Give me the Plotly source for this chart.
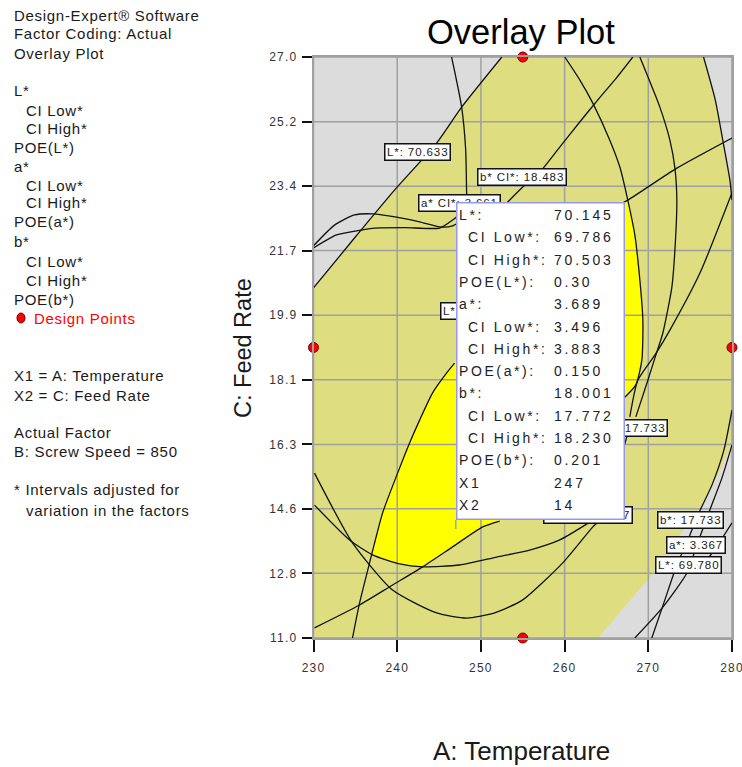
import plotly.graph_objects as go

FIG_W, FIG_H = 742, 767

# ---------------------------------------------------------------- axes
temp_range = [230, 280]
feed_range = [11.0, 27.0]
temp_ticks = [230, 240, 250, 260, 270, 280]
feed_tick_vals = [11.0, 12.78, 14.56, 16.33, 18.11, 19.89, 21.67, 23.44, 25.22, 27.0]
feed_tick_text = ["11.0", "12.8", "14.6", "16.3", "18.1", "19.9", "21.7", "23.4", "25.2", "27.0"]

# ---------------------------------------------------------------- design points
design_temp = [255, 230, 280, 255]
design_feed = [27, 19, 19, 11]

# ---------------------------------------------------------------- flagged point
flag_x1 = 247
flag_x2 = 14
flag_rows = ["L*:", "CI Low*:", "CI High*:", "POE(L*):",
             "a*:", "CI Low*:", "CI High*:", "POE(a*):",
             "b*:", "CI Low*:", "CI High*:", "POE(b*):",
             "X1", "X2"]
flag_values = ["70.145", "69.786", "70.503", "0.30",
               "3.689", "3.496", "3.883", "0.150",
               "18.001", "17.772", "18.230", "0.201",
               str(flag_x1), str(flag_x2)]
flag_indent = [0, 1, 1, 0, 0, 1, 1, 0, 0, 1, 1, 0, 0, 0]

# ---------------------------------------------------------------- region edges
# L* = 70.633 limit (upper-left edge of the acceptable region)
l_upper_t = [230.0, 234.7, 239.7, 244.7, 247.7, 252.5]
l_upper_f = [20.64, 21.96, 23.34, 24.63, 25.62, 27.0]
# upper-right limit
edge_tr_t = [276.6, 278.0, 278.9, 279.75, 280.0]
edge_tr_f = [27.0, 25.82, 24.71, 23.61, 23.06]
# lower-right limit
edge_lr_t = [280.0, 278.6, 276.8, 273.8, 270.2, 264.0]
edge_lr_f = [16.37, 15.63, 14.80, 13.84, 12.68, 11.0]

# sweet spot (all criteria met)
sweet_t = [267.55, 268.39, 268.99, 269.35, 269.23, 268.51, 266.84, 259.4, 252.25,
           250.21, 246.62, 243.04, 240.29, 237.06, 238.25, 240.05, 241.48, 242.68,
           244.23, 245.91, 246.86, 252.25, 259.42]
sweet_f = [23.06, 22.10, 20.86, 19.76, 18.66, 17.97, 17.55, 15.63, 14.22,
           14.06, 13.51, 12.96, 13.04, 13.29, 14.44, 15.54, 16.37, 17.0,
           17.75, 18.30, 18.57, 20.86, 22.65]

# ---------------------------------------------------------------- contour lines
contours = {
    "b": ([246.50, 247.70, 248.18, 248.30, 248.42],
          [27.0, 25.62, 24.44, 23.20, 22.24]),
    "c1": ([230.0, 232.51, 234.90, 237.06, 239.93, 242.68, 245.07, 246.62, 248.66],
           [21.80, 22.37, 22.65, 22.68, 22.59, 22.46, 22.32, 22.35, 22.65]),
    "c2": ([230.0, 232.75, 235.86, 237.30, 241.0, 245.07, 246.62, 248.66],
           [21.74, 22.10, 22.24, 22.29, 22.30, 22.29, 22.51, 22.92]),
    "d": ([252.84, 255.0, 257.03, 259.42, 261.81, 263.97, 266.0, 268.15],
          [22.92, 23.42, 23.83, 24.52, 25.21, 25.82, 26.37, 27.0]),
    "e": ([260.02, 261.81, 263.37, 265.40, 266.60, 267.55, 268.39, 268.99, 269.35,
           269.23, 268.51, 266.84],
          [27.0, 26.37, 25.73, 24.71, 23.97, 23.06, 22.10, 20.86, 19.76,
           18.66, 17.97, 17.55]),
    "f": ([268.99, 271.38, 272.58, 273.18, 273.41, 273.18, 272.82, 271.74, 270.90,
           269.95, 268.51],
          [27.0, 25.62, 24.71, 23.94, 23.06, 21.69, 20.67, 19.40, 18.79,
           18.10, 17.09]),
    "k": ([280.0, 276.17, 272.58, 270.78, 268.75, 267.79],
          [23.26, 21.05, 19.48, 18.79, 18.10, 17.09]),
    "j": ([264.21, 267.55, 273.41, 280.0],
          [22.65, 23.06, 23.94, 24.77]),
    "g": ([267.5, 267.08, 266.60, 265.64, 264.21, 263.37, 259.78, 255.0, 251.65,
           248.30, 244.71, 239.45, 234.66, 230.12],
          [16.6, 16.26, 15.98, 15.08, 14.25, 14.06, 13.07, 12.05, 11.69,
           11.55, 11.69, 12.32, 13.62, 15.54]),
    "l2": ([230.12, 234.31, 237.06, 240.29, 243.04, 247.46, 251.89, 255.83, 259.42, 263.01],
           [14.66, 13.70, 13.29, 13.04, 12.96, 13.01, 13.23, 13.42, 13.70, 14.19]),
    "l3": ([234.66, 235.50, 236.70, 238.25, 240.05, 241.48, 242.68, 244.23, 245.91, 246.86],
           [11.0, 11.96, 13.07, 14.44, 15.54, 16.37, 17.0, 17.75, 18.30, 18.57]),
    "l4": ([230.12, 235.50, 239.45, 243.04, 246.62, 250.21, 252.25],
           [11.28, 11.91, 12.46, 12.96, 13.51, 14.06, 14.22]),
    "h1": ([280.0, 279.04, 277.60, 275.93, 274.73, 273.41, 271.98, 270.42],
           [17.28, 16.18, 15.21, 14.39, 13.70, 13.01, 12.05, 11.0]),
    "h2": ([280.0, 278.80, 277.36, 275.81, 274.61, 271.74, 268.39],
           [16.32, 15.41, 14.53, 13.56, 12.79, 11.85, 11.0]),
    "h3": ([280.0, 278.92, 277.36, 275.9],
           [14.17, 13.78, 13.26, 13.0]),
}

# contour labels: text, temperature, feed rate, horizontal anchor
contour_labels = [
    ("L*: 70.633", 238.37, 24.38, "left"),
    ("b* CI*: 18.483", 249.49, 23.70, "left"),
    ("a* CI*: 3.661", 242.44, 22.98, "left"),
    ("L*: 70.145", 245.07, 20.0, "left"),
    ("b*: 17.733", 272.34, 16.78, "right"),
    ("b* CI*: 17.727", 268.15, 14.39, "right"),
    ("b*: 17.733", 271.02, 14.25, "left"),
    ("a*: 3.367", 272.10, 13.56, "left"),
    ("L*: 69.780", 270.78, 13.01, "left"),
]

# ---------------------------------------------------------------- styling
GRAY_BG = "#DCDCDC"
OLIVE = "#DEDE80"
SWEET = "#FFFF00"
GRID = "#A0A0A0"
SANS = "Liberation Sans, Arial, sans-serif"


def spaced(text, px):
    return f'<span style="letter-spacing:{px}px">{text}</span>'


def px_x(px):
    return px / FIG_W


def px_y(py):
    return 1 - py / FIG_H


fig = go.Figure()

# acceptable region
olive_t = l_upper_t + edge_tr_t + edge_lr_t + [temp_range[0]]
olive_f = l_upper_f + edge_tr_f + edge_lr_f + [feed_range[0]]
fig.add_trace(go.Scatter(x=olive_t, y=olive_f, fill="toself", fillcolor=OLIVE,
                         mode="lines", line=dict(width=0), hoverinfo="skip"))
# sweet spot
fig.add_trace(go.Scatter(x=sweet_t, y=sweet_f, fill="toself", fillcolor=SWEET,
                         mode="lines", line=dict(width=0), hoverinfo="skip"))

# grid drawn over the shaded regions
gx, gy = [], []
for t in temp_ticks:
    gx += [t, t, None]
    gy += [feed_range[0], feed_range[1], None]
for f in feed_tick_vals:
    gx += [temp_range[0], temp_range[1], None]
    gy += [f, f, None]
fig.add_trace(go.Scatter(x=gx, y=gy, mode="lines",
                         line=dict(color=GRID, width=1.5), hoverinfo="skip"))

# boundary lines of the region
line_style = dict(color="#111111", width=1.3, shape="spline", smoothing=0.6)
for xs, ys in [(l_upper_t, l_upper_f), (edge_tr_t, edge_tr_f)]:
    fig.add_trace(go.Scatter(x=xs, y=ys, mode="lines", line=line_style, hoverinfo="skip"))
for name, (xs, ys) in contours.items():
    fig.add_trace(go.Scatter(x=xs, y=ys, mode="lines", line=line_style,
                             name=name, hoverinfo="skip"))

# design points
fig.add_trace(go.Scatter(x=design_temp, y=design_feed, mode="markers",
                         marker=dict(symbol="circle", size=10, color="#FF0000",
                                     line=dict(color="#700000", width=1)),
                         cliponaxis=False, hoverinfo="skip"))

annotations = []

# contour labels
for text, t, f, anchor in contour_labels:
    annotations.append(dict(
        x=t, y=f, xref="x", yref="y", text=spaced(text, 0.9), showarrow=False,
        xanchor=anchor, yanchor="middle",
        font=dict(family=SANS, size=11.5, color="#1a1a1a"),
        bgcolor="white", bordercolor="#111111", borderwidth=1.5, borderpad=1.5))

# flag box attached to the flagged point
annotations.append(dict(
    x=flag_x1, y=flag_x2, xref="x", yref="y", text=" ",
    showarrow=True, arrowhead=0, arrowwidth=1.5, arrowcolor="#9898E8",
    ax=0, ay=-9, xanchor="left", yanchor="bottom",
    width=166, height=315, bgcolor="white",
    bordercolor="#9898E8", borderwidth=1.5, borderpad=0))

row_step = 22.3
for i, (lab, val) in enumerate(zip(flag_rows, flag_values)):
    ys = 314 - i * row_step
    annotations.append(dict(
        x=flag_x1, y=flag_x2, xref="x", yref="y", text=spaced(lab, 2.6),
        showarrow=False, xanchor="left", yanchor="middle",
        xshift=1 + 9 * flag_indent[i], yshift=ys,
        font=dict(family=SANS, size=14, color="#222222")))
    annotations.append(dict(
        x=flag_x1, y=flag_x2, xref="x", yref="y", text=spaced(val, 2.8),
        showarrow=False, xanchor="left", yanchor="middle",
        xshift=96, yshift=ys,
        font=dict(family=SANS, size=14, color="#222222")))

# side panel text
side_lines = [
    ("Design-Expert® Software", 12, 15), ("Factor Coding: Actual", 12, 33),
    ("Overlay Plot", 12, 53), ("L*", 12, 90), ("CI Low*", 24, 110),
    ("CI High*", 24, 128), ("POE(L*)", 12, 147), ("a*", 12, 166),
    ("CI Low*", 24, 185), ("CI High*", 24, 203), ("POE(a*)", 12, 222),
    ("b*", 12, 241), ("CI Low*", 24, 261), ("CI High*", 24, 280),
    ("POE(b*)", 12, 300), ("X1 = A: Temperature", 12, 375),
    ("X2 = C: Feed Rate", 12, 395), ("Actual Factor", 12, 433),
    ("B: Screw Speed = 850", 12, 452), ("* Intervals adjusted for", 12, 490),
    ("variation in the factors", 24, 510),
]
for text, x0, y0 in side_lines:
    annotations.append(dict(
        x=px_x(x0), y=px_y(y0), xref="paper", yref="paper", text=spaced(text, 0.7),
        showarrow=False, xanchor="left", yanchor="middle",
        font=dict(family=SANS, size=15, color="#1a1a1a")))
annotations.append(dict(
    x=px_x(32), y=px_y(318), xref="paper", yref="paper", text=spaced("Design Points", 0.7),
    showarrow=False, xanchor="left", yanchor="middle",
    font=dict(family=SANS, size=15, color="#FF0000")))

# titles
annotations.append(dict(
    x=px_x(521), y=px_y(32), xref="paper", yref="paper", text="Overlay Plot",
    showarrow=False, xanchor="center", yanchor="middle",
    font=dict(family=SANS, size=34.5, color="#000000")))
annotations.append(dict(
    x=px_x(521), y=px_y(751), xref="paper", yref="paper", text="A: Temperature",
    showarrow=False, xanchor="center", yanchor="middle",
    font=dict(family=SANS, size=26, color="#1a1a1a")))
annotations.append(dict(
    x=px_x(243), y=px_y(348), xref="paper", yref="paper", text="C: Feed Rate",
    showarrow=False, xanchor="center", yanchor="middle", textangle=-90,
    font=dict(family=SANS, size=23.5, color="#1a1a1a")))

shapes = [dict(type="circle", xref="paper", yref="paper",
               x0=px_x(17), x1=px_x(25), y0=px_y(323), y1=px_y(313),
               fillcolor="#FF0000", line=dict(color="#700000", width=1))]

tick_font = dict(family=SANS, size=12, color="#333333")
fig.update_layout(
    width=FIG_W, height=FIG_H,
    margin=dict(l=0, r=0, t=0, b=0, autoexpand=False),
    paper_bgcolor="white", plot_bgcolor=GRAY_BG,
    showlegend=False,
    annotations=annotations, shapes=shapes,
    xaxis=dict(domain=[px_x(313.5), px_x(732)], range=temp_range, automargin=False,
               tickvals=temp_ticks, ticktext=[spaced(str(t), 1.2) for t in temp_ticks],
               showgrid=False, zeroline=False, ticks="outside", ticklen=12,
               tickwidth=1.5, tickcolor="#111111", showline=True, linecolor=GRID,
               linewidth=1.5, mirror=True, tickfont=tick_font, ticklabelstandoff=6,
               ticklabeloverflow="allow"),
    yaxis=dict(domain=[px_y(638), px_y(57)], range=feed_range, automargin=False,
               tickvals=feed_tick_vals, ticktext=[spaced(s, 1.2) for s in feed_tick_text],
               showgrid=False, zeroline=False, ticks="outside", ticklen=10,
               tickwidth=1.5, tickcolor="#111111", showline=True, linecolor=GRID,
               linewidth=1.5, mirror=True, tickfont=tick_font, ticklabelstandoff=2,
               ticklabeloverflow="allow"),
)

fig.write_html("out.html")
